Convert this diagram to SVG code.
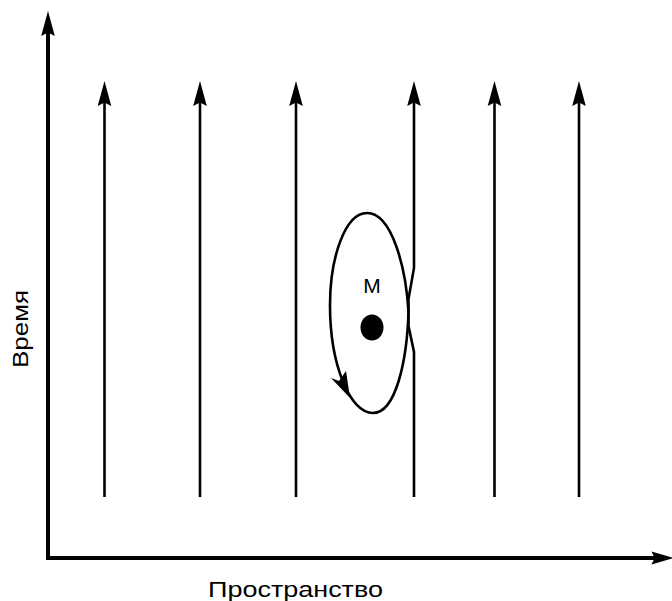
<svg xmlns="http://www.w3.org/2000/svg" width="672" height="601" viewBox="0 0 672 601">
  <style>
    .axis { stroke: #000; stroke-width: 4; fill: none; }
    .wl { stroke: #000; stroke-width: 2.6; fill: none; }
    .loop { stroke: #000; stroke-width: 2.6; fill: none; }
    .head { fill: #000; stroke: none; }
    .lbl { font-family: "Liberation Sans", Arial, sans-serif; fill: #000; }
  </style>
  <defs>
    <path id="upHead" d="M0,0 L-6.8,25 L0,21.5 L6.8,25 Z"/>
  </defs>
  <rect width="672" height="601" fill="#fff"/>

  <g id="connectors">
    <g id="time-axis">
      <line class="axis" x1="48" y1="560" x2="48" y2="28"/>
      <use href="#upHead" class="head" transform="translate(48,11)"/>
    </g>
    <g id="space-axis">
      <line class="axis" x1="46" y1="558" x2="656" y2="558"/>
      <use href="#upHead" class="head" transform="translate(674,558) rotate(90) scale(0.95,0.9)"/>
    </g>
    <g id="worldline-1">
      <line class="wl" x1="104.5" y1="497" x2="104.5" y2="100"/>
      <use href="#upHead" class="head" transform="translate(104.5,81)"/>
    </g>
    <g id="worldline-2">
      <line class="wl" x1="200" y1="497" x2="200" y2="100"/>
      <use href="#upHead" class="head" transform="translate(200,81)"/>
    </g>
    <g id="worldline-3">
      <line class="wl" x1="296" y1="497" x2="296" y2="100"/>
      <use href="#upHead" class="head" transform="translate(296,81)"/>
    </g>
    <g id="worldline-4">
      <path class="wl" d="M414,497 L414,352 L408.5,326 L408.5,299 L414,268 L414,100"/>
      <use href="#upHead" class="head" transform="translate(414,81)"/>
    </g>
    <g id="worldline-5">
      <line class="wl" x1="494.5" y1="497" x2="494.5" y2="100"/>
      <use href="#upHead" class="head" transform="translate(494.5,81)"/>
    </g>
    <g id="worldline-6">
      <line class="wl" x1="579" y1="497" x2="579" y2="100"/>
      <use href="#upHead" class="head" transform="translate(579,81)"/>
    </g>
    <g id="loop">
      <path class="loop" d="M408.5,312 C406,268 392,213 367,213 C345,213 330,258 330,305 C330,365 350,413 373,413 C396,413 407,360 408.5,312 Z"/>
      <path class="head" d="M350,398 L331,378 L339,381 L346,371 Z"/>
    </g>
  </g>

  <g id="mass">
    <ellipse cx="372" cy="327.5" rx="11.5" ry="13" fill="#000"/>
    <text class="lbl" x="372" y="293" font-size="21" text-anchor="middle">M</text>
  </g>

  <g id="label-space">
    <text class="lbl" x="295.5" y="596.5" font-size="22" text-anchor="middle" textLength="175" lengthAdjust="spacingAndGlyphs">Пространство</text>
  </g>
  <g id="label-time">
    <text class="lbl" transform="translate(27.5,329) rotate(-90)" font-size="22" text-anchor="middle" textLength="78" lengthAdjust="spacingAndGlyphs">Время</text>
  </g>
</svg>
